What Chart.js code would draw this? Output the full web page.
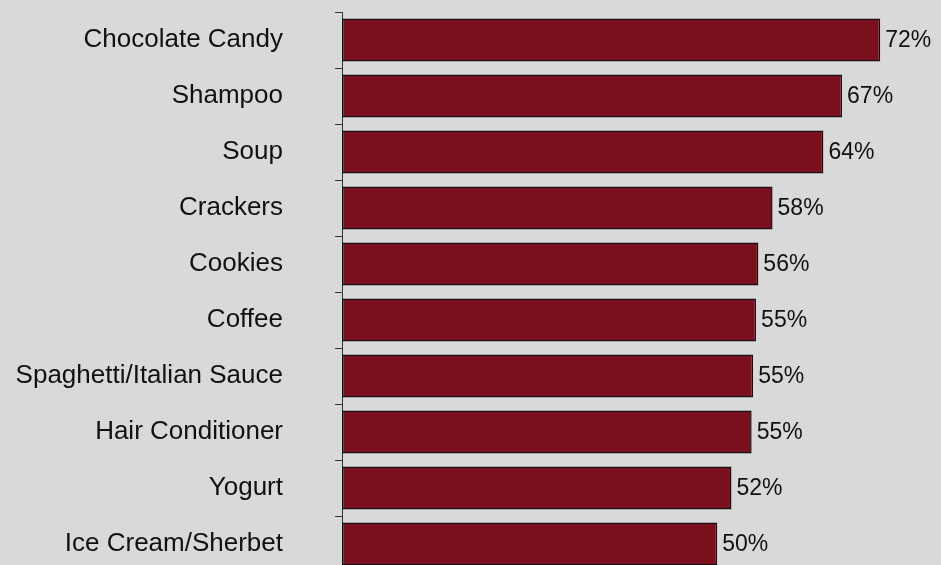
<!DOCTYPE html>
<html>
<head>
<meta charset="utf-8">
<script src="https://cdn.jsdelivr.net/npm/chart.js@4/dist/chart.umd.min.js"></script>
<style>
  html, body { margin: 0; padding: 0; background: #d9d9d9; overflow: hidden; }
  #wrap { width: 941px; height: 584px; position: relative; }
</style>
</head>
<body>
<div id="wrap"><canvas id="myChart"></canvas></div>
<script>
// categories, top to bottom
var categories = ['Chocolate Candy', 'Shampoo', 'Soup', 'Crackers', 'Cookies', 'Coffee',
    'Spaghetti/Italian Sauce', 'Hair Conditioner', 'Yogurt', 'Ice Cream/Sherbet'];
// share of respondents (%)
var values = [72.0, 66.9, 64.4, 57.6, 55.7, 55.4, 55.0, 54.8, 52.1, 50.2];
var valueLabels = ['72%', '67%', '64%', '58%', '56%', '55%', '55%', '55%', '52%', '50%'];

var barColor = '#7a101e';
var fontName = "'Liberation Sans', Arial, sans-serif";

// writes the percent text just past the end of each bar
var barLabels = {
    id: 'barLabels',
    afterDatasetsDraw: function (chart) {
        var ctx = chart.ctx;
        var meta = chart.getDatasetMeta(0);
        ctx.save();
        ctx.font = '23px ' + fontName;
        ctx.fillStyle = '#111';
        ctx.textAlign = 'left';
        ctx.textBaseline = 'middle';
        meta.data.forEach(function (bar, i) {
            ctx.fillText(valueLabels[i], bar.x + 5, bar.y + 1);
        });
        ctx.restore();
    }
};

var ctx = document.getElementById('myChart').getContext('2d');
var chart = new Chart(ctx, {
    type: 'bar',
    data: {
        labels: categories,
        datasets: [{
            data: values,
            backgroundColor: barColor,
            borderColor: '#111',
            borderWidth: 1.5,
            borderSkipped: false,
            barPercentage: 0.77,
            categoryPercentage: 1.0
        }]
    },
    options: {
        indexAxis: 'y',
        responsive: true,
        maintainAspectRatio: false,
        animation: false,
        layout: { padding: { top: 12, bottom: 12, left: 0, right: 1 } },
        plugins: {
            legend: { display: false },
            tooltip: { enabled: false }
        },
        scales: {
            x: {
                display: false,
                min: 0,
                max: 80
            },
            y: {
                afterFit: function (scale) {
                    scale.width = 342;
                    // tick padding would otherwise push the plot down
                    scale.paddingTop = 0;
                    scale.paddingBottom = 0;
                },
                grid: {
                    drawOnChartArea: false,
                    tickLength: 7,
                    color: '#333',
                    offset: true
                },
                border: { display: true, color: '#333', width: 1 },
                ticks: {
                    padding: 52,
                    color: '#111',
                    font: { family: fontName, size: 26 }
                }
            }
        }
    },
    plugins: [barLabels]
});
</script>
</body>
</html>
